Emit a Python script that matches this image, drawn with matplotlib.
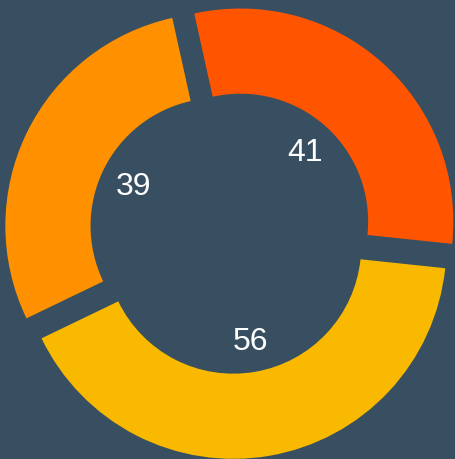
import matplotlib.pyplot as plt

values = [41, 56, 39]
colors = ["#FF5500", "#F8B900", "#FF9100"]
bg = "#374F60"

fig = plt.figure(figsize=(4.55, 4.59), dpi=100, facecolor=bg)
ax = fig.add_axes([0, 0, 1, 1])
ax.set_facecolor(bg)

wedges, texts, autotexts = ax.pie(
    values,
    colors=colors,
    startangle=102.5,
    counterclock=False,
    explode=[0.066] * len(values),
    autopct=lambda p: f"{round(p * sum(values) / 100):d}",
    pctdistance=0.446,
    wedgeprops=dict(width=0.4, linewidth=0, edgecolor="none"),
    textprops=dict(color="white", fontsize=23, family="Liberation Sans"),
)
# nudge labels slightly down to match the reference
for t in autotexts:
    x, y = t.get_position()
    t.set_position((x + 0.005, y - 0.01))

scale = 213.0
ax.set_xlim(-231 / scale, 224 / scale)
ax.set_ylim(-(459 - 232) / scale, 232 / scale)
ax.set_aspect("auto")
ax.axis("off")

fig.savefig("out.png", dpi=100, facecolor=bg)
